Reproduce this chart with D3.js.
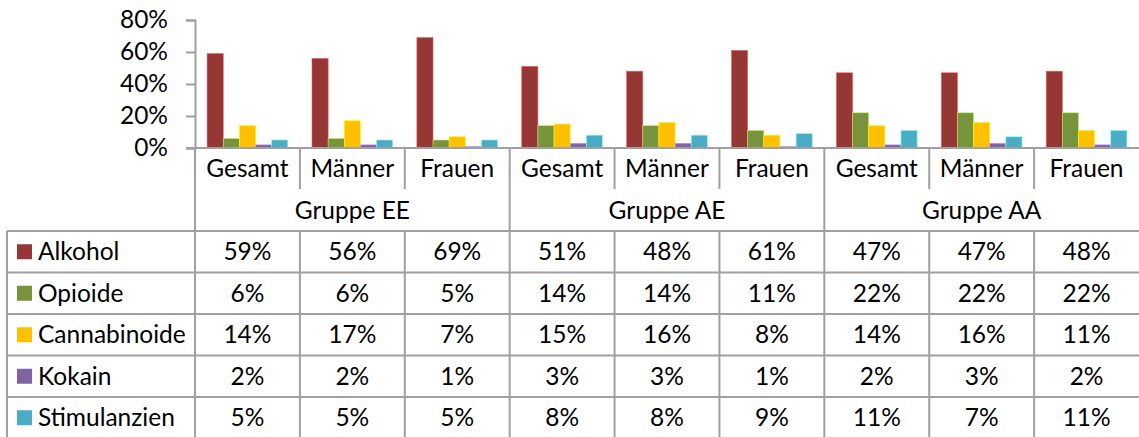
<!DOCTYPE html>
<html>
<head>
<meta charset="utf-8">
<script src="https://cdn.jsdelivr.net/npm/d3@7"></script>
<style>
  html, body { margin: 0; padding: 0; background: #fff; }
  svg text { font-family: Lato, "Noto Sans", sans-serif; fill: #000; }
</style>
</head>
<body>
<svg id="chart" width="1139" height="437"></svg>
<script>
// data
var groups = ['Gruppe EE', 'Gruppe AE', 'Gruppe AA'];
var subgroups = ['Gesamt', 'Männer', 'Frauen'];
var seriesNames = ['Alkohol', 'Opioide', 'Cannabinoide', 'Kokain', 'Stimulanzien'];
var seriesColors = ['#953735', '#77933c', '#ffc000', '#8064a2', '#4bacc6'];

var alkohol      = [0.59, 0.56, 0.69, 0.51, 0.48, 0.61, 0.47, 0.47, 0.48];
var opioide      = [0.06, 0.06, 0.05, 0.14, 0.14, 0.11, 0.22, 0.22, 0.22];
var cannabinoide = [0.14, 0.17, 0.07, 0.15, 0.16, 0.08, 0.14, 0.16, 0.11];
var kokain       = [0.02, 0.02, 0.01, 0.03, 0.03, 0.01, 0.02, 0.03, 0.02];
var stimulanzien = [0.05, 0.05, 0.05, 0.08, 0.08, 0.09, 0.11, 0.07, 0.11];

var yTicks = [0, 0.2, 0.4, 0.6, 0.8];

var seriesValues = [alkohol, opioide, cannabinoide, kokain, stimulanzien];

// layout
var config = {
    left: 195,
    right: 1139,
    tableLeft: 7,
    plotTop: 20,
    axisY: 148,
    catRowBottom: 189,
    headBottom: 231,
    rowHeight: 41.5,
    fontSize: 24.5,
    lineColor: '#a0a0a0'
};

var svg = d3.select('#chart');

// one cell per group/subgroup pair
var cells = [];
groups.forEach(function (g, gi) {
    subgroups.forEach(function (s, si) {
        cells.push({ key: g + '|' + s, group: g, sub: s, gi: gi, si: si, idx: cells.length });
    });
});

var x = d3.scaleBand()
    .domain(cells.map(function (d) { return d.key; }))
    .range([config.left, config.right]);

var xInner = d3.scaleBand()
    .domain(seriesNames)
    .range([0, x.bandwidth()])
    .paddingOuter(0.75)
    .paddingInner(0);

var y = d3.scaleLinear()
    .domain([0, 0.8])
    .range([config.axisY, config.plotTop]);

// bars
var barLayer = svg.append('g').attr('class', 'bars');
seriesNames.forEach(function (name, si) {
    barLayer.append('g')
        .attr('fill', seriesColors[si])
        .selectAll('rect')
        .data(cells)
        .enter()
        .append('rect')
        .attr('x', function (d) { return x(d.key) + xInner(name); })
        .attr('y', function (d) { return y(seriesValues[si][d.idx]); })
        .attr('width', xInner.bandwidth())
        .attr('height', function (d) { return y(0) - y(seriesValues[si][d.idx]); })
        .attr('stroke', d3.color(seriesColors[si]).brighter(1.4))
        .attr('stroke-width', 0.6);
});

// y axis
var yAxis = svg.append('g')
    .attr('class', 'y-axis')
    .attr('transform', 'translate(' + config.left + ',0)')
    .call(d3.axisLeft(y).tickValues(yTicks).tickFormat(d3.format('.0%')).tickSize(9).tickPadding(18));
yAxis.select('.domain').attr('stroke', config.lineColor).attr('stroke-width', 2);
yAxis.selectAll('.tick line').attr('stroke', config.lineColor).attr('stroke-width', 2);
yAxis.selectAll('.tick text')
    .attr('font-size', config.fontSize)
    .attr('font-family', 'Lato, "Noto Sans", sans-serif')
    .attr('fill', '#000');

// header lines (x axis, category and group separators)
var grid = svg.append('g').attr('class', 'grid')
    .attr('stroke', config.lineColor)
    .attr('stroke-width', 2);

grid.append('line')
    .attr('x1', config.left - 9).attr('x2', config.right)
    .attr('y1', config.axisY).attr('y2', config.axisY);

grid.selectAll('.sep')
    .data(cells)
    .enter()
    .append('line')
    .attr('x1', function (d) { return x(d.key); })
    .attr('x2', function (d) { return x(d.key); })
    .attr('y1', config.axisY)
    .attr('y2', function (d) { return d.si === 0 ? config.headBottom : config.catRowBottom; });

// category labels
svg.append('g').selectAll('text')
    .data(cells)
    .enter()
    .append('text')
    .attr('x', function (d) { return x(d.key) + x.bandwidth() / 2; })
    .attr('y', (config.axisY + config.catRowBottom) / 2)
    .attr('dy', '0.35em')
    .attr('text-anchor', 'middle')
    .attr('font-size', config.fontSize)
    .text(function (d) { return d.sub; });

// group labels
svg.append('g').selectAll('text')
    .data(groups)
    .enter()
    .append('text')
    .attr('x', function (d, i) { return x(cells[i * 3].key) + x.bandwidth() * 1.5; })
    .attr('y', (config.catRowBottom + config.headBottom) / 2)
    .attr('dy', '0.35em')
    .attr('text-anchor', 'middle')
    .attr('font-size', config.fontSize)
    .text(function (d) { return d; });

// data table
var rowY = function (i) { return config.headBottom + i * config.rowHeight; };

var tableLines = svg.append('g').attr('class', 'table-lines')
    .attr('stroke', config.lineColor)
    .attr('stroke-width', 2);

tableLines.selectAll('.hline')
    .data(d3.range(seriesNames.length + 1))
    .enter()
    .append('line')
    .attr('x1', config.tableLeft).attr('x2', config.right)
    .attr('y1', function (i) { return rowY(i); })
    .attr('y2', function (i) { return rowY(i); });

tableLines.append('line')
    .attr('x1', config.tableLeft).attr('x2', config.tableLeft)
    .attr('y1', config.headBottom).attr('y2', rowY(seriesNames.length));

tableLines.selectAll('.vline')
    .data(cells)
    .enter()
    .append('line')
    .attr('x1', function (d) { return x(d.key); })
    .attr('x2', function (d) { return x(d.key); })
    .attr('y1', config.headBottom)
    .attr('y2', rowY(seriesNames.length));

var rows = svg.append('g').attr('class', 'table-rows')
    .selectAll('g')
    .data(seriesNames)
    .enter()
    .append('g')
    .attr('transform', function (d, i) { return 'translate(0,' + (rowY(i) + config.rowHeight / 2) + ')'; });

rows.append('rect')
    .attr('x', 17)
    .attr('y', -7.5)
    .attr('width', 15)
    .attr('height', 15)
    .attr('fill', function (d, i) { return seriesColors[i]; });

rows.append('text')
    .attr('x', 38)
    .attr('dy', '0.35em')
    .attr('font-size', config.fontSize)
    .text(function (d) { return d; });

rows.each(function (name, si) {
    d3.select(this).selectAll('.val')
        .data(cells)
        .enter()
        .append('text')
        .attr('x', function (d) { return x(d.key) + x.bandwidth() / 2; })
        .attr('dy', '0.35em')
        .attr('text-anchor', 'middle')
        .attr('font-size', config.fontSize)
        .text(function (d) { return d3.format('.0%')(seriesValues[si][d.idx]); });
});
</script>
</body>
</html>
